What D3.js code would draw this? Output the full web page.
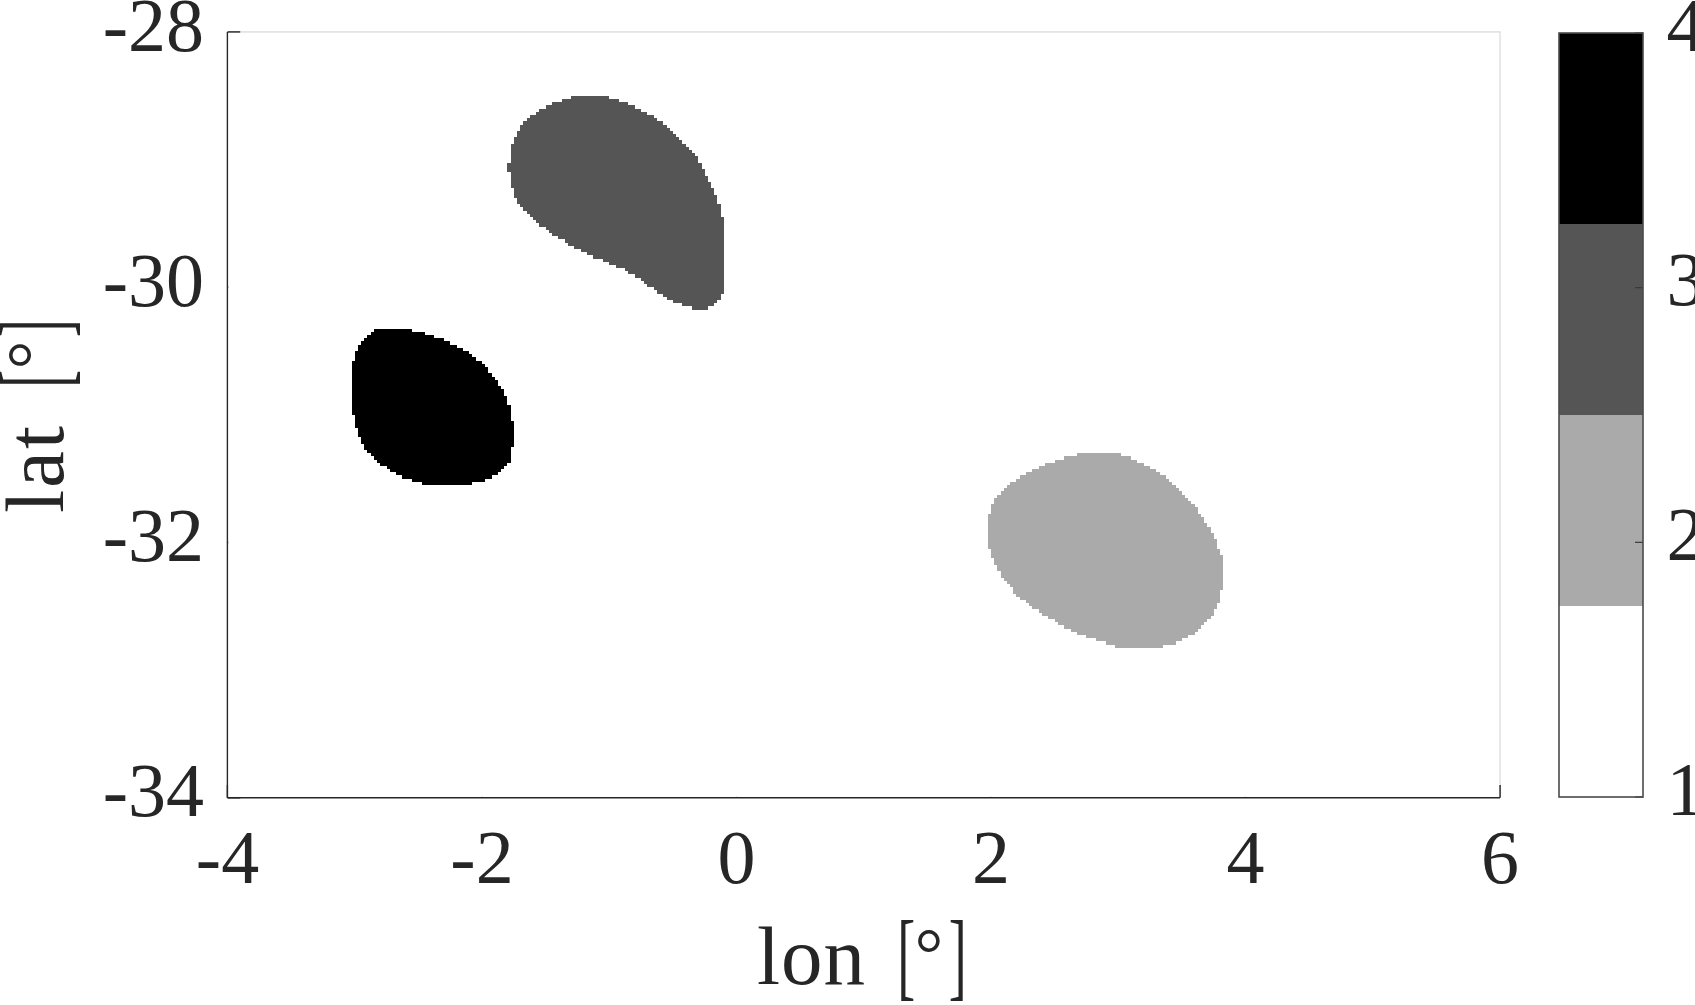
<!DOCTYPE html>
<html><head><meta charset="utf-8">
<script src="https://cdn.jsdelivr.net/npm/d3@7"></script>
<style>
html,body{margin:0;padding:0;background:#fff;overflow:hidden}
svg{display:block}
text{font-family:"Liberation Serif",serif;fill:#262626}
</style></head><body>
<svg id="c" width="1695" height="1005"></svg>
<script>
// Data
const xTicks = [-4,-2,0,2,4,6];
const yTicks = [-34,-32,-30,-28];
const cbTicks = [1,2,3,4];
const cbColors = ["#ffffff","#aaaaaa","#555555","#000000"];
const gridStep = 0.025;

const blackValue = 4;
const blackLon = [-2.815,-2.574,-2.435,-2.291,-2.147,-2.016,-1.898,-1.819,-1.767,-1.759,-1.793,-1.885,-2.042,-2.252,-2.461,-2.644,-2.802,-2.933,-3.005,-3.025,-3.020,-2.990,-2.919];
const blackLat = [-30.329,-30.334,-30.365,-30.418,-30.486,-30.582,-30.713,-30.843,-31.013,-31.222,-31.379,-31.470,-31.530,-31.561,-31.540,-31.478,-31.379,-31.235,-31.039,-30.830,-30.621,-30.504,-30.399];

const darkValue = 3;
const darkLon = [-1.230,-1.059,-0.915,-0.758,-0.601,-0.457,-0.339,-0.234,-0.156,-0.103,-0.098,-0.103,-0.156,-0.261,-0.392,-0.549,-0.680,-0.811,-0.968,-1.151,-1.335,-1.492,-1.636,-1.741,-1.785,-1.785,-1.748,-1.662,-1.544,-1.400];
const darkLat = [-28.501,-28.501,-28.538,-28.606,-28.702,-28.820,-28.950,-29.120,-29.303,-29.512,-29.760,-30.008,-30.112,-30.170,-30.151,-30.086,-29.995,-29.903,-29.825,-29.747,-29.650,-29.551,-29.433,-29.290,-29.133,-28.990,-28.846,-28.702,-28.611,-28.546];

const lightValue = 2;
const lightLon = [2.713,3.001,3.197,3.381,3.538,3.669,3.773,3.826,3.813,3.760,3.642,3.511,3.354,3.145,2.988,2.804,2.621,2.437,2.280,2.149,2.045,1.992,1.966,1.992,2.058,2.176,2.333,2.516];
const lightLat = [-31.308,-31.308,-31.384,-31.496,-31.640,-31.810,-32.005,-32.175,-32.371,-32.528,-32.671,-32.763,-32.810,-32.828,-32.815,-32.755,-32.684,-32.580,-32.475,-32.345,-32.201,-32.058,-31.901,-31.757,-31.627,-31.522,-31.431,-31.358];

const regions = [
  {value:blackValue, lon:blackLon, lat:blackLat},
  {value:darkValue,  lon:darkLon,  lat:darkLat},
  {value:lightValue, lon:lightLon, lat:lightLat}
];

// Layout
const X0=227.5, X1=1500, Y0=32, Y1=797.7;
const CX0=1559, CX1=1643, CY0=33, CY1=797;
const ink="#262626";
const svg=d3.select("#c");
const x=d3.scaleLinear().domain([-4,6]).range([X0,X1]);
const y=d3.scaleLinear().domain([-34,-28]).range([Y1,Y0]);
const cbY=d3.scaleLinear().domain([1,4]).range([CY1,CY0]);
const color=d3.scaleQuantize().domain([1,4]).range(cbColors);

// Light top and right box lines
svg.append("path").attr("d",`M${X0},${Y0}H${X1}V${Y1}`).attr("fill","none").attr("stroke","#dcdcdc").attr("stroke-width",1.4);

function styleAxis(g){
  g.selectAll(".domain").attr("stroke",ink).attr("stroke-width",1.6);
  g.selectAll(".tick line").attr("stroke",ink).attr("stroke-width",1.6);
  g.selectAll("text").attr("font-size",76).attr("font-family",'"Liberation Serif",serif').attr("fill",ink);
}
const gx=svg.append("g").attr("transform",`translate(0,${Y1})`)
  .call(d3.axisBottom(x).offset(0).tickValues(xTicks).tickSize(-12.7).tickSizeOuter(0).tickFormat(d3.format("d")))
  .call(styleAxis);
gx.selectAll("text").text(d=>String(d)).attr("y",85).attr("dy",0);
const gy=svg.append("g").attr("transform",`translate(${X0},0)`)
  .call(d3.axisLeft(y).offset(0).tickValues(yTicks).tickSize(-12.7).tickSizeOuter(0).tickFormat(d3.format("d")))
  .call(styleAxis);
gy.selectAll("text").text(d=>String(d)).attr("x",-23.5).attr("y",18.5).attr("dy",0);

// The image covers the ticks that are inside the axes
svg.append("rect").attr("x",X0+0.8).attr("y",Y0+0.8).attr("width",X1-X0-1.6).attr("height",Y1-Y0-1.6).attr("fill","#fff");

// Rasterise each region on the data grid
regions.forEach(r=>{
  const pts=r.lon.map((v,i)=>[x(v),y(r.lat[i])]);
  const tmp=svg.append("path").attr("fill","none").attr("d",d3.line().curve(d3.curveCatmullRomClosed.alpha(0.5))(pts));
  const L=tmp.node().getTotalLength(), poly=[];
  for(let s=0;s<L;s+=1){const p=tmp.node().getPointAtLength(s);poly.push([p.x,p.y]);}
  tmp.remove();
  const p=d3.path();
  const nx=Math.round(10/gridStep), ny=Math.round(6/gridStep);
  for(let j=0;j<ny;j++){
    const la0=-34+j*gridStep, la1=la0+gridStep;
    let start=null;
    for(let i=0;i<=nx;i++){
      const lo=-4+(i+0.5)*gridStep;
      const inside=i<nx&&d3.polygonContains(poly,[x(lo),y(la0+gridStep/2)]);
      if(inside&&start===null)start=i;
      if(!inside&&start!==null){
        const a=x(-4+start*gridStep), b=x(-4+i*gridStep);
        p.rect(a,y(la1),b-a,y(la0)-y(la1));
        start=null;
      }
    }
  }
  svg.append("path").attr("d",p.toString()).attr("fill",color(r.value)).attr("shape-rendering","crispEdges");
});

// Colourbar
const bandEdges=cbColors.map(c=>color.invertExtent(c));
svg.append("g").selectAll("rect").data(bandEdges).join("rect")
  .attr("x",CX0).attr("width",CX1-CX0)
  .attr("y",d=>cbY(d[1])).attr("height",d=>cbY(d[0])-cbY(d[1]))
  .attr("fill",(d,i)=>cbColors[i]);
const gc=svg.append("g").attr("transform",`translate(${CX1},0)`)
  .call(d3.axisRight(cbY).offset(0).tickValues(cbTicks).tickSize(-8).tickSizeOuter(0).tickFormat(d3.format("d")))
  .call(styleAxis);
gc.selectAll(".domain").remove();
gc.selectAll(".tick line").attr("stroke","#3a3a3a").attr("stroke-width",1.2);
gc.selectAll("text").attr("x",23.5).attr("y",17.5).attr("dy",0).attr("text-anchor","start");
svg.append("rect").attr("x",CX0).attr("y",CY0).attr("width",CX1-CX0).attr("height",CY1-CY0)
  .attr("fill","none").attr("stroke","#4a4a4a").attr("stroke-width",1.6);

// Axis titles
function title(word,transform,spacing,openAt,degAt,closeAt){
  const g=svg.append("g").attr("transform",transform);
  g.append("text").attr("font-size",83).attr("letter-spacing",spacing).text(word);
  g.append("text").attr("font-size",98).attr("transform",`translate(${openAt-4.7},4) scale(0.55,1)`).text("[");
  g.append("text").attr("font-size",71).attr("text-anchor","middle").attr("x",degAt).attr("y",-6).text("°");
  g.append("text").attr("font-size",98).attr("transform",`translate(${closeAt-13.2},4) scale(0.55,1)`).text("]");
}
title("lon",`translate(757,984)`,1,145,172,205);
title("lat",`translate(63,513) rotate(-90)`,2,130,158,189);
</script>
</body></html>
